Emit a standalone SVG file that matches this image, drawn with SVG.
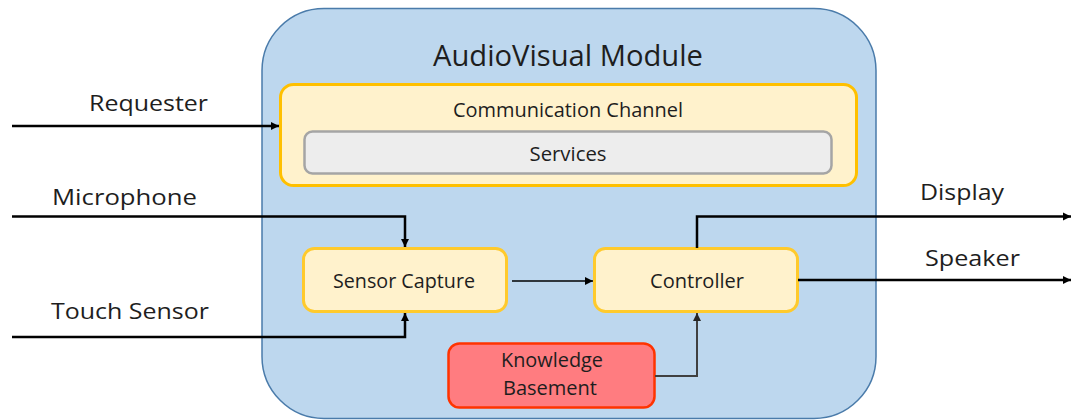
<svg xmlns="http://www.w3.org/2000/svg" width="1071" height="420" viewBox="0 0 1071 420">
  <style>
    .t { font-family: "Open Sans", "Liberation Sans", sans-serif; fill: #1e1e1e; text-anchor: middle; }
    .out { font-size: 22px; }
    .in { font-size: 20px; }
    .title { font-size: 29px; }
    .yel { fill: #FFF2CC; stroke: #FFCA2C; stroke-width: 3; }
    .wire { fill: none; stroke: #000; stroke-width: 2.5; }
  </style>
  <defs>
    <marker id="arr" markerUnits="userSpaceOnUse" markerWidth="9" markerHeight="9" refX="8" refY="4.5" orient="auto">
      <path d="M0,0.5 L8,4.5 L0,8.5 z" fill="#000"/>
    </marker>
    <marker id="arrg" markerUnits="userSpaceOnUse" markerWidth="9" markerHeight="9" refX="8" refY="4.5" orient="auto">
      <path d="M0,0.5 L8,4.5 L0,8.5 z" fill="#262626"/>
    </marker>
  </defs>

  <g id="module">
    <rect x="262" y="8.5" width="614" height="410" rx="62" ry="62" fill="#BDD7EE" stroke="#4A7BAA" stroke-width="1.5"/>
    <text class="t title" x="568" y="66" textLength="270" lengthAdjust="spacingAndGlyphs">AudioVisual Module</text>
  </g>

  <g id="communication-channel">
    <rect x="280.5" y="84.5" width="576" height="101" rx="13" ry="13" fill="#FFF2CC" stroke="#FFC000" stroke-width="3"/>
    <text class="t in" x="568" y="117" textLength="230" lengthAdjust="spacingAndGlyphs">Communication Channel</text>
  </g>

  <g id="services">
    <rect x="304.5" y="131.5" width="527" height="42" rx="8" ry="8" fill="#EDEDED" stroke="#A5A5A5" stroke-width="2.5"/>
    <text class="t in" x="568" y="161" textLength="77" lengthAdjust="spacingAndGlyphs">Services</text>
  </g>

  <g id="sensor-capture">
    <rect class="yel" x="303.5" y="248.5" width="203" height="63" rx="11" ry="11"/>
    <text class="t in" x="404" y="288" textLength="142" lengthAdjust="spacingAndGlyphs">Sensor Capture</text>
  </g>

  <g id="controller">
    <rect class="yel" x="594.5" y="248.5" width="203" height="63" rx="11" ry="11"/>
    <text class="t in" x="697" y="288" textLength="94" lengthAdjust="spacingAndGlyphs">Controller</text>
  </g>

  <g id="knowledge-basement">
    <rect x="448.5" y="343.5" width="206" height="64" rx="11" ry="11" fill="#FF7C80" stroke="#FF3300" stroke-width="2.5"/>
    <text class="t in" x="552" y="367" textLength="102" lengthAdjust="spacingAndGlyphs">Knowledge</text>
    <text class="t in" x="550" y="395" textLength="94" lengthAdjust="spacingAndGlyphs">Basement</text>
  </g>

  <g id="labels">
    <text class="t out" x="148.5" y="111" textLength="119" lengthAdjust="spacingAndGlyphs">Requester</text>
    <text class="t out" x="124.5" y="205" textLength="145" lengthAdjust="spacingAndGlyphs">Microphone</text>
    <text class="t out" x="130" y="319" textLength="158" lengthAdjust="spacingAndGlyphs">Touch Sensor</text>
    <text class="t out" x="962" y="200" textLength="84" lengthAdjust="spacingAndGlyphs">Display</text>
    <text class="t out" x="972.5" y="266" textLength="95" lengthAdjust="spacingAndGlyphs">Speaker</text>
  </g>

  <g id="connectors">
    <path class="wire" d="M12,126 H279" marker-end="url(#arr)"/>
    <path class="wire" d="M12,216.5 H405 V247" marker-end="url(#arr)"/>
    <path class="wire" d="M12,337 H405 V313" marker-end="url(#arr)"/>
    <path d="M512,281 H593" fill="none" stroke="#000" stroke-width="1.3" marker-end="url(#arr)"/>
    <path class="wire" d="M697,248 V216.5 H1071" marker-end="url(#arr)"/>
    <path class="wire" d="M798,280 H1071" marker-end="url(#arr)"/>
    <path d="M655,376 H697 V313" fill="none" stroke="#404040" stroke-width="2" marker-end="url(#arrg)"/>
  </g>
</svg>
